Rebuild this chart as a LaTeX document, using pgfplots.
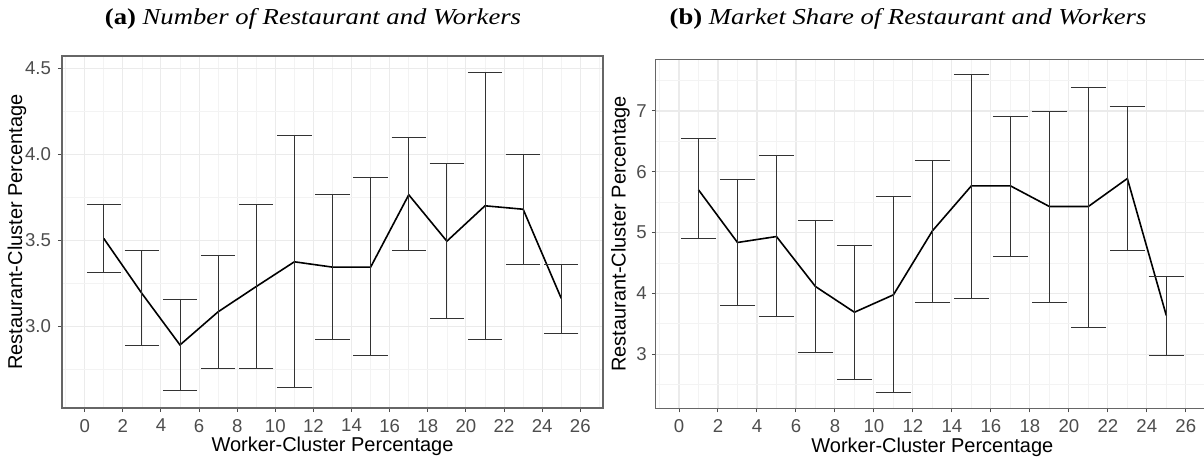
\documentclass[border=0pt]{standalone}
\usepackage{fontspec}
\setmainfont{Liberation Sans}
\newfontfamily\titlefont{Liberation Serif}
\usepackage{pgfplots}
\usepackage{pgfplotstable}
\pgfplotsset{compat=1.18}
\definecolor{gridmaj}{HTML}{EBEBEB}
\definecolor{gridmin}{HTML}{F3F3F3}
\definecolor{ticklab}{HTML}{4D4D4D}

% x = worker-cluster percentage, y = mean, lo/hi = ends of the error bar
\pgfplotstableread{
x  y     lo    hi
1  3.510 3.310 3.709
3  3.190 2.888 3.442
5  2.890 2.622 3.155
7  3.083 2.754 3.413
9  3.230 2.754 3.709
11 3.374 2.641 4.110
13 3.343 2.919 3.764
15 3.343 2.826 3.866
17 3.764 3.438 4.095
19 3.494 3.043 3.946
21 3.700 2.919 4.475
23 3.680 3.359 3.998
25 3.161 2.957 3.359
}\dataA

\pgfplotstableread{
x  y     lo    hi
1  5.703 4.897 6.540
3  4.837 3.795 5.873
5  4.935 3.620 6.273
7  4.113 3.027 5.193
9  3.690 2.589 4.793
11 3.976 2.375 5.593
13 5.028 3.855 6.190
15 5.769 3.916 7.594
17 5.769 4.612 6.909
19 5.429 3.855 6.986
21 5.429 3.439 7.386
23 5.889 4.700 7.073
25 3.636 2.984 4.272
}\dataB

\pgfplotsset{ggstyle/.style={
  scale only axis,
  grid=both,
  major grid style={gridmaj, line width=0.55pt},
  minor grid style={gridmin, line width=0.35pt},
  tick align=outside,
  tick pos=left,
  major tick length=2pt,
  minor tick length=0pt,
  major tick style={black!70, line width=0.5pt},
  axis line style={black!60, line width=0.6pt},
  xtick={0,2,...,26},
  minor xtick={-1,1,...,27},
  xmin=-1.19, xmax=27.19,
  ticklabel style={font=\fontsize{9.3}{11}\selectfont, text=ticklab},
  /pgf/number format/assume math mode=true,
  label style={font=\fontsize{9}{11}\selectfont},
  xlabel={Worker-Cluster Percentage},
  ylabel={Restaurant-Cluster Percentage},
  every axis x label/.style={at={(axis description cs:0.5,0)}, anchor=base, yshift=-22pt},
}}

\begin{document}
\begin{tikzpicture}
\useasboundingbox (0,0) rectangle (602pt,230pt);

\node[anchor=base] at (156.5pt,217.5pt) {\titlefont\fontsize{11.4}{13}\selectfont\scalebox{1.17}[1]{\textbf{(a)} \textit{Number of Restaurant and Workers}}};
\node[anchor=base] at (454pt,217.5pt) {\titlefont\fontsize{11.4}{13}\selectfont\scalebox{1.17}[1]{\textbf{(b)} \textit{Market Share of Restaurant and Workers}}};

\begin{axis}[ggstyle,
  at={(31pt,26pt)}, anchor=south west,
  width=270.5pt, height=176pt,
  ymin=2.523, ymax=4.572,
  ytick={3.0,3.5,4.0,4.5},
  minor ytick={2.75,3.25,3.75,4.25},
  yticklabel style={/pgf/number format/.cd, fixed, fixed zerofill, precision=1},
  every axis y label/.style={at={(axis description cs:-0.0832,0.5)}, rotate=90, anchor=center},
]
\addplot[black, line width=0.8pt, mark=none,
  error bars/.cd, y dir=both, y explicit,
  error mark=|, error mark options={mark size=8.6pt, line width=0.5pt, black!80},
  error bar style={line width=0.5pt, black!80}]
  table[x=x, y=y, y error plus expr={\thisrow{hi}-\thisrow{y}}, y error minus expr={\thisrow{y}-\thisrow{lo}}] {\dataA};
\end{axis}

\begin{axis}[ggstyle,
  at={(327.9pt,25.85pt)}, anchor=south west,
  width=276.6pt, height=174.5pt,
  ymin=2.11, ymax=7.85,
  ytick={3,4,5,6,7},
  minor ytick={2.5,3.5,...,7.5},
  yticklabel style={xshift=1pt},
  every axis y label/.style={at={(axis description cs:-0.064,0.5)}, rotate=90, anchor=center},
]
\addplot[black, line width=0.8pt, mark=none,
  error bars/.cd, y dir=both, y explicit,
  error mark=|, error mark options={mark size=8.8pt, line width=0.5pt, black!80},
  error bar style={line width=0.5pt, black!80}]
  table[x=x, y=y, y error plus expr={\thisrow{hi}-\thisrow{y}}, y error minus expr={\thisrow{y}-\thisrow{lo}}] {\dataB};
\end{axis}
\end{tikzpicture}
\end{document}
